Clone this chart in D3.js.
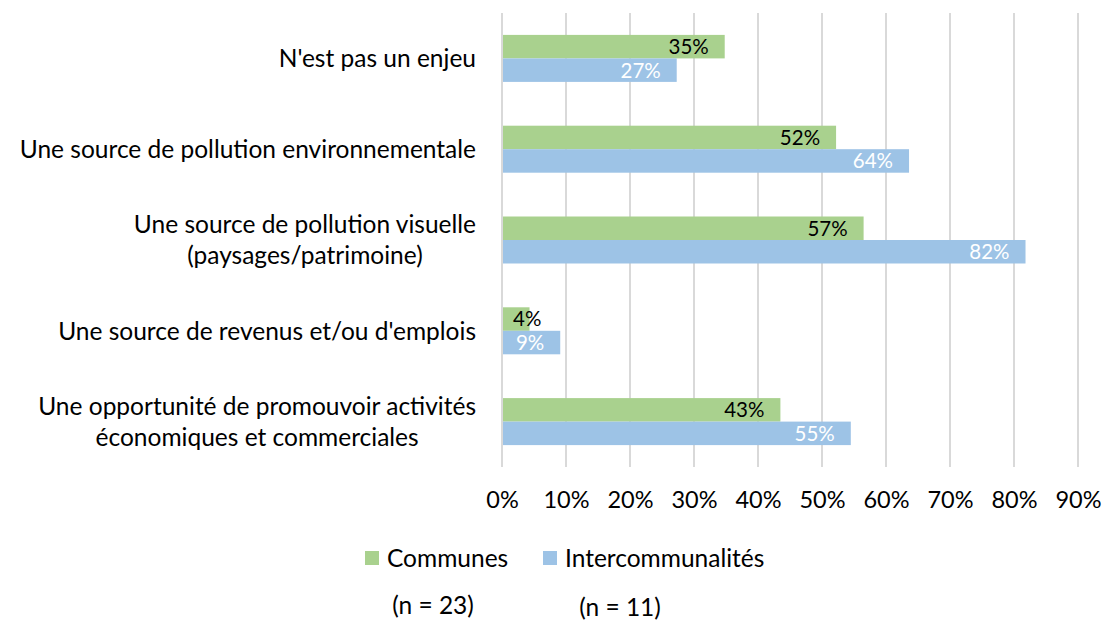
<!DOCTYPE html>
<html>
<head>
<meta charset="utf-8">
<script src="https://cdn.jsdelivr.net/npm/d3@7"></script>
<style>
  body { margin: 0; background: #fff; }
  text { font-family: Lato, "Open Sans", sans-serif; }
</style>
</head>
<body>
<div id="chart"></div>
<script>
'use strict';

var categories = [
  ["N'est pas un enjeu"],
  ["Une source de pollution environnementale"],
  ["Une source de pollution visuelle", "(paysages/patrimoine)"],
  ["Une source de revenus et/ou d'emplois"],
  ["Une opportunité de promouvoir activités", "économiques et commerciales"]
];
var communes = [0.348, 0.522, 0.565, 0.043, 0.435];
var intercos = [0.273, 0.636, 0.818, 0.091, 0.545];
var communesLabels = ["35%", "52%", "57%", "4%", "43%"];
var intercosLabels = ["27%", "64%", "82%", "9%", "55%"];
var seriesNames = ["Communes", "Intercommunalités"];
var sampleSizes = ["(n = 23)", "(n = 11)"];
var ticks = [0, 0.1, 0.2, 0.3, 0.4, 0.5, 0.6, 0.7, 0.8, 0.9];

var cw = 1105, ch = 621;
var margins = {top: 13, left: 502, right: 27, bottom: 154};
var colors = ["#A9D18E", "#9DC3E6"];
var fs = 24.5;

var svg = d3.select("#chart").append("svg")
  .attr("width", cw)
  .attr("height", ch);

var xScale = d3.scaleLinear()
  .domain([0, 0.9])
  .range([margins.left, cw - margins.right]);

var yScale = d3.scaleBand()
  .domain(d3.range(categories.length))
  .range([margins.top, ch - margins.bottom]);

var barH = 23.5;

// grid
svg.append("g").selectAll("line")
  .data(ticks)
  .enter().append("line")
  .attr("x1", function(d) { return xScale(d); })
  .attr("x2", function(d) { return xScale(d); })
  .attr("y1", margins.top)
  .attr("y2", ch - margins.bottom)
  .attr("stroke", "#D9D9D9")
  .attr("stroke-width", 2);

// x axis labels
var xAxis = d3.axisBottom(xScale)
  .tickValues(ticks)
  .tickFormat(d3.format(".0%"))
  .tickSize(0)
  .tickPadding(0);

var axG = svg.append("g")
  .attr("transform", "translate(0," + (ch - margins.bottom + 24) + ")")
  .call(xAxis);
axG.select(".domain").remove();
axG.selectAll("text")
  .attr("font-size", 23.5)
  .attr("fill", "#000")
  .style("font-family", "Lato, sans-serif");

// bars
var series = [
  {values: communes, labels: communesLabels, color: colors[0], text: "#000", off: -barH},
  {values: intercos, labels: intercosLabels, color: colors[1], text: "#fff", off: 0}
];

series.forEach(function(s) {
  var g = svg.append("g");
  g.selectAll("rect")
    .data(s.values)
    .enter().append("rect")
    .attr("x", xScale(0) + 1)
    .attr("y", function(d, i) { return yScale(i) + yScale.bandwidth() / 2 + s.off; })
    .attr("width", function(d) { return xScale(d) - xScale(0) - 1; })
    .attr("height", barH)
    .attr("fill", s.color);

  // inside end, pushed right when the bar is too short
  g.selectAll("text")
    .data(s.values)
    .enter().append("text")
    .attr("y", function(d, i) { return yScale(i) + yScale.bandwidth() / 2 + s.off + barH / 2; })
    .attr("dy", "0.36em")
    .attr("text-anchor", "end")
    .attr("font-size", 20.5)
    .attr("fill", s.text)
    .text(function(d, i) { return s.labels[i]; })
    .attr("x", function(d) {
      var w = this.getComputedTextLength();
      return Math.max(xScale(d) - 16, xScale(0) + 11 + w);
    });
});

// category labels, extra lines centred under the first
var catG = svg.append("g").selectAll("text")
  .data(categories)
  .enter().append("text")
  .attr("font-size", fs)
  .attr("fill", "#000")
  .attr("transform", function(d, i) {
    return "translate(" + (margins.left - 26) + "," + (yScale(i) + yScale.bandwidth() / 2) + ")";
  });

catG.each(function(d) {
  var t = d3.select(this);
  var first = null;
  d.forEach(function(line, j) {
    var ts = t.append("tspan")
      .attr("y", (j - (d.length - 1) / 2) * 31)
      .attr("dy", "0.36em")
      .text(line);
    if (j === 0) {
      ts.attr("x", 0).attr("text-anchor", "end");
      first = ts.node().getComputedTextLength();
    } else {
      ts.attr("x", -first / 2).attr("text-anchor", "middle");
    }
  });
});

// legend
var legX = [365, 543];
var leg = svg.append("g").selectAll("g")
  .data(seriesNames)
  .enter().append("g")
  .attr("transform", function(d, i) { return "translate(" + legX[i] + ",558)"; });

leg.append("rect")
  .attr("x", 0)
  .attr("y", -7)
  .attr("width", 14)
  .attr("height", 14)
  .attr("fill", function(d, i) { return colors[i]; });

leg.append("text")
  .attr("x", 22)
  .attr("dy", "0.36em")
  .attr("font-size", fs)
  .attr("fill", "#000")
  .text(function(d) { return d; });

// sample sizes
var nX = [433, 620], nY = [605, 607];
svg.append("g").selectAll("text")
  .data(sampleSizes)
  .enter().append("text")
  .attr("x", function(d, i) { return nX[i]; })
  .attr("y", function(d, i) { return nY[i]; })
  .attr("dy", "0.36em")
  .attr("text-anchor", "middle")
  .attr("font-size", fs)
  .attr("fill", "#000")
  .text(function(d) { return d; });
</script>
</body>
</html>
